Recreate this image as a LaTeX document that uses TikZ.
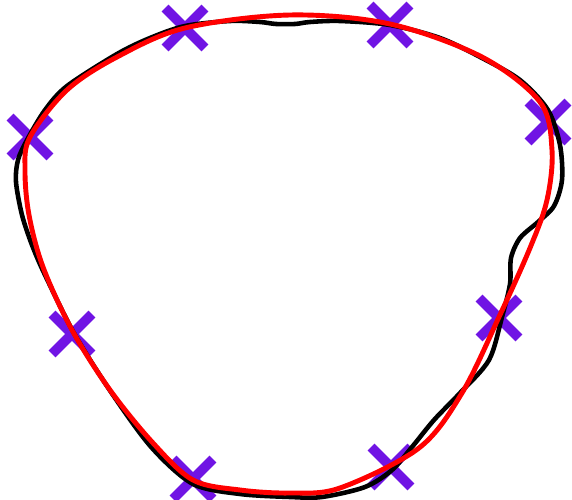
\documentclass[tikz,border=0pt]{standalone}
\usepackage{xcolor}
\definecolor{fitred}{RGB}{255,0,0}
\definecolor{markviolet}{RGB}{112,20,228}
\usetikzlibrary{shapes.misc}

\begin{document}
\begin{tikzpicture}[x=0.02cm,y=-0.02cm,
    crossmark/.style={cross out,draw=markviolet,line width=5.6pt,minimum size=0.6cm,inner sep=0pt},
    sketch/.style={draw=black,line width=2.6pt,line join=round},
    fitcurve/.style={draw=fitred,line width=2.8pt,line join=round}]
  \useasboundingbox (0,0) rectangle (572,500);

  % Sample points
  \foreach \px/\py [count=\i] in {185/28,390/25,548/122,30/137,72/334,499/318,193/479,391/467}
    \node[crossmark] (m\i) at (\px,\py) {};

  % Hand-drawn outline
  \draw[sketch] plot[smooth cycle,tension=0.5] coordinates {
    (185,26) (230,21) (260,22) (276,24) (295,24) (310,22) (340,21) (390,25)
    (440,38) (482,58) (520,80) (548,110) (560,145) (562,180) (554,206)
    (538,222) (520,238) (511,258) (510,284) (502,317) (489,360) (460,393)
    (434,420) (412,447) (392,470) (365,487) (322,497) (290,497) (240,494)
    (193,484) (152,448) (113,395) (75,335) (45,275) (32,245) (22,215)
    (16,182) (18,160) (27,140) (45,110) (67,86) (117,54) (150,38)};

  % Fitted curve
  \draw[fitcurve] plot[smooth cycle,tension=0.55] coordinates {
    (185,28) (290,15) (390,24) (482,57) (540,102) (552,150) (547,200)
    (530,248) (499,317) (462,393) (419,448) (340,488) (290,493) (240,490)
    (193,480) (153,443) (110,390) (72,330) (43,267) (29,215) (25,170)
    (30,137) (67,90) (117,57)};
\end{tikzpicture}
\end{document}
